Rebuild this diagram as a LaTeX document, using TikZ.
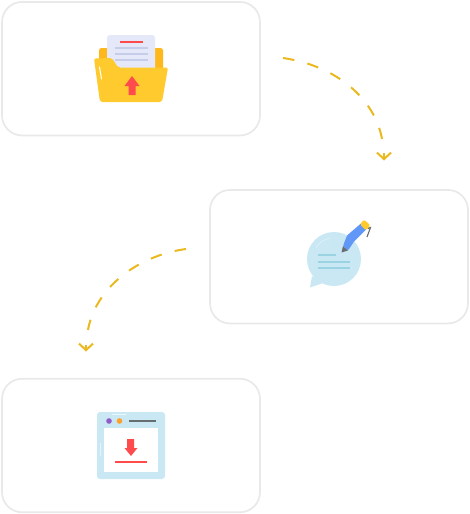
\documentclass[tikz,border=0pt]{standalone}
\usepackage{xcolor}
\usetikzlibrary{arrows.meta,positioning,calc}
\definecolor{edge}{HTML}{E9E9E9}
\definecolor{gold}{HTML}{E9B91F}
\definecolor{folderback}{HTML}{FFB81C}
\definecolor{folderfront}{HTML}{FFCA2E}
\definecolor{paper}{HTML}{E4E8F8}
\definecolor{paperline}{HTML}{C5CDE8}
\definecolor{red}{HTML}{FF4B4B}
\definecolor{sky}{HTML}{C9E8F4}
\definecolor{skyline}{HTML}{9AD4E2}
\definecolor{pen}{HTML}{6197F7}
\definecolor{steel}{HTML}{666E70}
\definecolor{purple}{HTML}{8E5BC9}
\definecolor{orange}{HTML}{FF9F2E}
\begin{document}
\begin{tikzpicture}[x=1pt,y=-1pt,>=Latex]
\tikzset{card/.style={draw=edge,line width=1.7pt,rounded corners=20pt,fill=white,minimum width=258pt,minimum height=133.5pt,inner sep=0pt}, a/.style={gold,line width=2pt,dash pattern=on 11.5pt off 13.5pt}, tipline/.style={gold,line width=2pt,-{Straight Barb[length=6.5pt,width=14pt]}}}
\useasboundingbox (0,0) rectangle (470,514);
\node[card] (upload) at (131,68.7) {};
\node[card] (write) at (339,256.7) {};
\node[card] (download) at (131,445.5) {};
% connectors
\coordinate (a1) at (283,58);\coordinate (a2) at (382,139);\coordinate (a3) at (384,153);\coordinate (a4) at (384,160.5);
\coordinate (b1) at (186,249);\coordinate (b2) at (88,330);\coordinate (b3) at (86,345);\coordinate (b4) at (86,351.5);
\draw[a] (a1) .. controls (338,66) and (375,100) .. (a2);
\draw[tipline] (a3)--(a4);
\draw[a] (b1) .. controls (135,256) and (95,290) .. (b2);
\draw[tipline] (b3)--(b4);
% folder
\fill[folderback,rounded corners=2.5pt] (99,72)--(99,48)--(163,48)--(163,72)--cycle;
\fill[paper,rounded corners=3pt] (107,75)--(107,35)--(155,35)--(155,75)--cycle;
\fill[red] (119.5,40.8) rectangle (142.5,42.6);
\foreach \y in {47.4,53.2,58.9}{\fill[paperline] (115,\y) rectangle (148,\y+1.7);}
\fill[folderfront,rounded corners=2pt] (94,58.5)--(112,58)--(118,67.5)--(168,67.5)--(162,102)--(100,102)--cycle;
\draw[white,line width=1pt,line cap=round] (99.5,67)--(101.5,79);
\fill[red] (132,76)--(139.5,86)--(135.5,86)--(135.5,95)--(128.5,95)--(128.5,86)--(124.5,86)--cycle;
% bubble and pen
\fill[sky] (334,259) circle[radius=27pt];
\fill[sky] (312,276)--(310,287.5)--(323,283)--cycle;
\draw[white!50!sky,line width=.5pt] (316,248) .. controls (318,243) and (323,240) .. (330,238);
\foreach \y/\e in {255/336,261.5/350,268/350}{\draw[skyline,line width=2pt] (318,\y)--(\e,\y);}
\fill[steel] (341.5,252.5)--(343,246)--(348,250.5)--cycle;
\fill[pen,rounded corners=1pt] (343,246)--(347,235.5)--(361.5,223)--(366.5,229)--(354,241.5)--(348,250.5)--cycle;
\fill[folderfront,rounded corners=1.5pt] (360,224.5)--(364,219.5)--(370.5,225.5)--(366,230.5)--cycle;
\draw[steel,line width=1.1pt] (368,228.5)--(370.5,227.5)--(367,237);
% window
\fill[sky,rounded corners=3pt] (97,412) rectangle (165,479);
\fill[white] (104,428) rectangle (158,472);
\fill[purple] (109,421) circle[radius=2.8pt];
\fill[orange] (119.5,421) circle[radius=2.8pt];
\draw[steel,line width=2pt] (129,421)--(156,421);
\fill[red] (127,439)--(134,439)--(134,448)--(137.5,448)--(131,456)--(124.5,448)--(127,448)--cycle;
\draw[red,line width=1.8pt] (115,462)--(147,462);
\draw[white!60!sky,line width=.6pt] (112,414)--(126,414);
\draw[white!50!sky,line width=.8pt] (100,443)--(100,456);
\end{tikzpicture}
\end{document}
